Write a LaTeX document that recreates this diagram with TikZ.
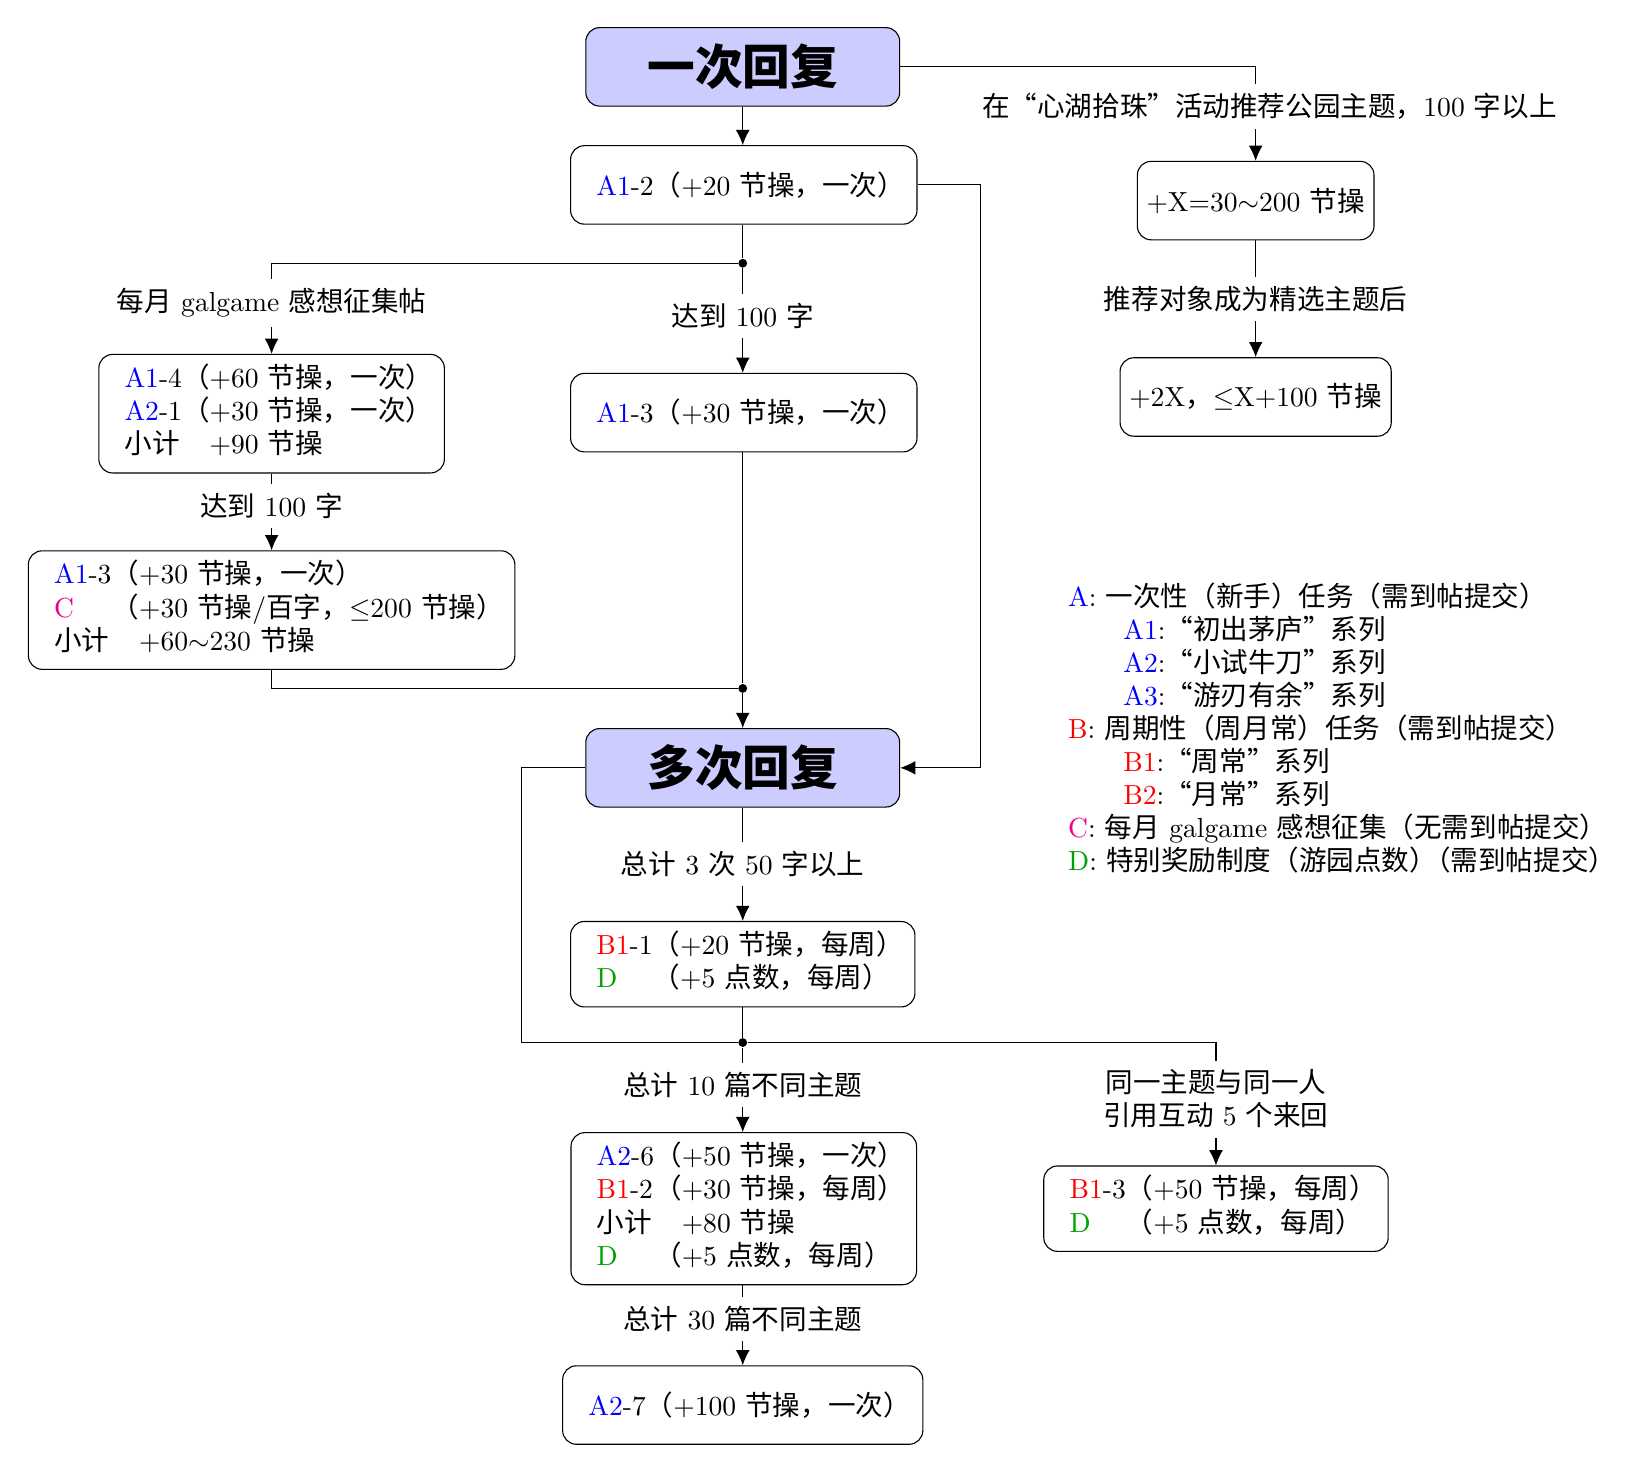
\documentclass[tikz,border=0pt]{standalone}
\usepackage{fontspec}
\usepackage{xcolor}
\usetikzlibrary{arrows.meta}
\newfontfamily\cjk{Noto Sans CJK SC}
\XeTeXinterchartokenstate=1
\newcount\cjkcnt
\cjkcnt="4E00
\loop
  \XeTeXcharclass\cjkcnt=10
  \advance\cjkcnt by 1
\ifnum\cjkcnt<"A000 \repeat
\cjkcnt="3000
\loop
  \XeTeXcharclass\cjkcnt=10
  \advance\cjkcnt by 1
\ifnum\cjkcnt<"3040 \repeat
\cjkcnt="FF00
\loop
  \XeTeXcharclass\cjkcnt=10
  \advance\cjkcnt by 1
\ifnum\cjkcnt<"FFF0 \repeat
\XeTeXcharclass"201C=10
\XeTeXcharclass"201D=10
\XeTeXinterchartoks 0 10 = {\cjk}
\XeTeXinterchartoks 4095 10 = {\cjk}
\XeTeXinterchartoks 10 0 = {\rmfamily}
\XeTeXinterchartoks 10 4095 = {\rmfamily}
\definecolor{titlefill}{RGB}{204,204,255}
\definecolor{cmag}{RGB}{236,0,140}
\definecolor{dgreen}{RGB}{0,160,0}
\newcommand{\cA}[1]{\textcolor{blue}{#1}}
\newcommand{\cB}[1]{\textcolor{red}{#1}}
\newcommand{\cC}[1]{\textcolor{cmag}{#1}}
\newcommand{\cD}[1]{\textcolor{dgreen}{#1}}
\newcommand{\tr}{\kern-5pt}
\tikzset{
  box/.style={draw, rounded corners=5pt, minimum height=1cm, inner xsep=9.33pt, fill=white},
  tbox/.style={draw, rounded corners=5pt, minimum height=1cm, inner sep=3.33pt, fill=white},
  pbox/.style={draw, rounded corners=5pt, minimum height=1cm, inner sep=3.33pt, fill=white},
  title/.style={draw, rounded corners=5pt, fill=titlefill, minimum width=4cm, minimum height=1cm,
    font=\fontsize{17.28}{20}\selectfont\bfseries},
  lbl/.style={fill=white, inner sep=3.33pt},
  arr/.style={-{Latex[length=5.5pt,width=5pt]}},
  dotn/.style={circle, fill=black, inner sep=0pt, minimum size=3.2pt}
}
\begin{document}
\begin{tikzpicture}[x=0.3788pt,y=-0.3788pt]
\useasboundingbox (0,0) rectangle (1568,1411);
% nodes
\node[title] (t1) at (711,64) {一次回复};
\node[box] (a12) at (712,177) {\cA{A1}-2（+20 节操，一次）\tr};
\node[pbox] (xb) at (1202,192) {+X=30$\sim$200 节操};
\node[pbox] (x2b) at (1202,380) {+2X，$\leq$X+100 节操};
\node[dotn] (d1) at (711,252) {};
\node[tbox] (a14) at (260,396) {\begin{tabular}{@{\hspace{6pt}}l@{}l@{\hspace{0.7pt}}}
\cA{A1}-4 & （+60 节操，一次）\\
\cA{A2}-1 & （+30 节操，一次）\\
小计 & \hphantom{（}+90 节操
\end{tabular}};
\node[box] (a13m) at (712,395) {\cA{A1}-3（+30 节操，一次）\tr};
\node[tbox] (a13l) at (260,584) {\begin{tabular}{@{\hspace{6pt}}l@{}l@{\hspace{0.7pt}}}
\cA{A1}-3 & （+30 节操，一次）\\
\cC{C} & （+30 节操/百字，$\leq$200 节操）\\
小计 & \hphantom{（}+60$\sim$230 节操
\end{tabular}};
\node[dotn] (d2) at (711,659) {};
\node[title] (t2) at (711,735) {多次回复};
\node[tbox] (b11) at (711,923) {\begin{tabular}{@{\hspace{6pt}}l@{}l@{\hspace{0.7pt}}}
\cB{B1}-1 & （+20 节操，每周）\\
\cD{D} & （+5 点数，每周）
\end{tabular}};
\node[dotn] (d3) at (711,998) {};
\node[tbox] (a26) at (712,1157) {\begin{tabular}{@{\hspace{6pt}}l@{}l@{\hspace{0.7pt}}}
\cA{A2}-6 & （+50 节操，一次）\\
\cB{B1}-2 & （+30 节操，每周）\\
小计 & \hphantom{（}+80 节操\\
\cD{D} & （+5 点数，每周）
\end{tabular}};
\node[tbox] (b13) at (1164,1157) {\begin{tabular}{@{\hspace{6pt}}l@{}l@{\hspace{0.7pt}}}
\cB{B1}-3 & （+50 节操，每周）\\
\cD{D} & （+5 点数，每周）
\end{tabular}};
\node[box] (a27) at (711,1345) {\cA{A2}-7（+100 节操，一次）\tr};
\node[align=left, anchor=north west, inner sep=0pt] (leg) at (1022,557) {%
\cA{A}: 一次性（新手）任务（需到帖提交）\\
\hspace*{2em}\cA{A1}:“初出茅庐”系列\\
\hspace*{2em}\cA{A2}:“小试牛刀”系列\\
\hspace*{2em}\cA{A3}:“游刃有余”系列\\
\cB{B}: 周期性（周月常）任务（需到帖提交）\\
\hspace*{2em}\cB{B1}:“周常”系列\\
\hspace*{2em}\cB{B2}:“月常”系列\\
\cC{C}: 每月 galgame 感想征集（无需到帖提交）\\
\cD{D}: 特别奖励制度（游园点数）\kern-5pt（需到帖提交）};
% connectors
\draw[arr] (t1) -- (t1 |- a12.north);
\draw[arr] (t1.east) -| node[pos=0.71, lbl, xshift=5pt] (l1) {在“心湖拾珠”活动推荐公园主题，100 字以上} (xb.north);
\draw[arr] (xb) -- node[lbl] (l2) {推荐对象成为精选主题后} (x2b);
\draw (d1 |- a12.south) -- (d1);
\draw[arr] (d1) -- node[lbl, pos=0.46] (l3) {达到 100 字} (d1 |- a13m.north);
\draw[arr] (d1) -| node[lbl, pos=0.72] (l4) {每月 galgame 感想征集帖} (a14.north);
\draw[arr] (a12.east) -- ++(60,0) |- (t2.east);
\draw[arr] (a14) -- node[lbl, pos=0.42] (l5) {达到 100 字} (a13l);
\draw (a13l.south) |- (d2);
\draw (d2 |- a13m.south) -- (d2);
\draw[arr] (d2) -- (t2);
\draw[arr] (t2) -- node[lbl] (l6) {总计 3 次 50 字以上} (b11);
\draw (b11) -- (d3);
\draw (t2.west) -- ++(-61,0) |- (d3);
\draw[arr] (d3) -- node[lbl, pos=0.44] (l7) {总计 10 篇不同主题} (d3 |- a26.north);
\draw[arr] (d3) -| node[lbl, pos=0.73, align=center] (l8) {同一主题与同一人\\引用互动 5 个来回} (b13.north);
\draw[arr] (d3 |- a26.south) -- node[lbl, pos=0.42] (l9) {总计 30 篇不同主题} (d3 |- a27.north);
\end{tikzpicture}
\end{document}
